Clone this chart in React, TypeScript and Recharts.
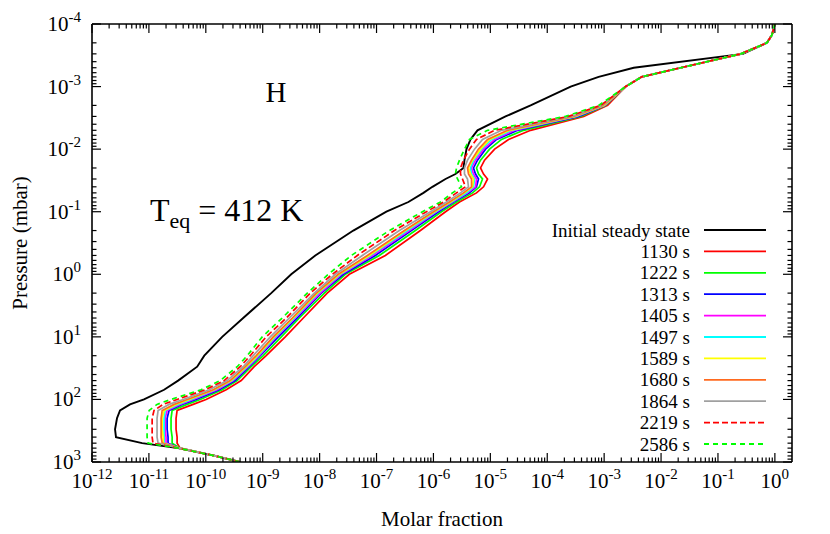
import React from 'react';
import { LineChart, Line, XAxis, YAxis, Legend } from 'recharts';

// gnuplot-like look: Times style font, black frame, ticks pointing inward
const FONT = "'Liberation Serif', 'Times New Roman', serif";

// ── data (pressure in mbar, molar fraction of H) ─────────────────────────────

const PRESSURE = [
  1000, 800, 600, 500, 400, 300, 200, 150, 120, 100, 70, 50, 30, 20, 10, 5, 2, 1, 0.5, 0.2,
  0.1, 0.07, 0.05, 0.04, 0.03, 0.025, 0.02, 0.015, 0.01, 0.007, 0.005, 0.003, 0.002, 0.001,
  7e-4, 5e-4, 3e-4, 2e-4, 1.5e-4, 1e-4,
];

const X_INITIAL = [
  4.0e-10, 1.46e-10, 3.26e-11, 7.6e-12, 2.64e-12, 2.54e-12, 2.75e-12, 3.11e-12, 4.66e-12, 8.2e-12,
  1.85e-11, 3.26e-11, 7.05e-11, 9.4e-11, 1.94e-10, 4.54e-10, 1.41e-9, 3.17e-9, 8.4e-9, 3.91e-8,
  1.49e-7, 3.63e-7, 6.67e-7, 9.6e-7, 1.63e-6, 2.44e-6, 3.37e-6, 3.51e-6, 3.81e-6, 4.48e-6,
  5.95e-6, 1.85e-5, 5.1e-5, 2.58e-4, 8.0e-4, 3.31e-3, 0.274, 0.725, 0.888, 1.0,
];

const X_1130 = [
  4.02e-10, 1.46e-10, 3.54e-11, 3.13e-11, 3.13e-11, 3.0e-11, 3.0e-11, 3.13e-11, 5.99e-11, 1.01e-10,
  2.28e-10, 4.19e-10, 7.09e-10, 1.15e-9, 2.49e-9, 5.17e-9, 1.36e-8, 3.33e-8, 1.43e-7, 5.91e-7,
  1.63e-6, 2.87e-6, 5.71e-6, 7.6e-6, 8.93e-6, 7.6e-6, 6.72e-6, 7.91e-6, 1.19e-5, 2.09e-5,
  5.1e-5, 4.37e-4, 1.15e-3, 2.39e-3, 4.58e-3, 2.22e-2, 0.253, 0.725, 0.888, 1.0,
];

const X_1222 = [
  4.02e-10, 1.46e-10, 3.54e-11, 2.56e-11, 2.56e-11, 2.45e-11, 2.45e-11, 2.56e-11, 4.69e-11, 7.95e-11,
  1.94e-10, 3.56e-10, 6.28e-10, 1.02e-9, 2.12e-9, 4.39e-9, 1.21e-8, 2.83e-8, 1.12e-7, 4.82e-7,
  1.38e-6, 2.54e-6, 4.86e-6, 6.46e-6, 7.29e-6, 6.2e-6, 5.71e-6, 6.72e-6, 9.69e-6, 1.57e-5,
  3.84e-5, 3.86e-4, 1.06e-3, 2.39e-3, 4.58e-3, 2.22e-2, 0.253, 0.725, 0.888, 1.0,
];

const X_1313 = [
  4.02e-10, 1.46e-10, 3.4e-11, 2.17e-11, 2.17e-11, 2.09e-11, 2.09e-11, 2.26e-11, 3.83e-11, 6.76e-11,
  1.72e-10, 3.28e-10, 5.79e-10, 9.05e-10, 1.88e-9, 4.05e-9, 1.07e-8, 2.61e-8, 9.55e-8, 4.1e-7,
  1.23e-6, 2.25e-6, 4.3e-6, 5.71e-6, 6.2e-6, 5.49e-6, 5.06e-6, 5.95e-6, 8.24e-6, 1.29e-5,
  3.01e-5, 3.56e-4, 1.02e-3, 2.39e-3, 4.58e-3, 2.22e-2, 0.253, 0.725, 0.888, 1.0,
];

const X_1405 = [
  4.02e-10, 1.46e-10, 3.4e-11, 2.0e-11, 2.0e-11, 1.93e-11, 1.93e-11, 2.09e-11, 3.54e-11, 5.99e-11,
  1.58e-10, 3.03e-10, 5.56e-10, 8.69e-10, 1.73e-9, 3.73e-9, 1.03e-8, 2.41e-8, 8.46e-8, 3.78e-7,
  1.13e-6, 2.16e-6, 3.97e-6, 5.49e-6, 5.71e-6, 5.06e-6, 4.67e-6, 5.49e-6, 7.6e-6, 1.19e-5,
  2.66e-5, 3.28e-4, 1.02e-3, 2.39e-3, 4.58e-3, 2.22e-2, 0.253, 0.725, 0.888, 1.0,
];

const X_1497 = [
  4.02e-10, 1.46e-10, 3.4e-11, 1.85e-11, 1.85e-11, 1.85e-11, 1.85e-11, 1.93e-11, 3.26e-11, 5.52e-11,
  1.46e-10, 2.91e-10, 5.34e-10, 8.34e-10, 1.66e-9, 3.59e-9, 9.49e-9, 2.31e-8, 7.8e-8, 3.49e-7,
  1.09e-6, 2.07e-6, 3.81e-6, 5.06e-6, 5.27e-6, 4.67e-6, 4.48e-6, 5.06e-6, 7.0e-6, 1.05e-5,
  2.36e-5, 3.15e-4, 9.82e-4, 2.39e-3, 4.58e-3, 2.22e-2, 0.253, 0.725, 0.888, 1.0,
];

const X_1589 = [
  4.02e-10, 1.46e-10, 3.4e-11, 1.78e-11, 1.78e-11, 1.71e-11, 1.71e-11, 1.85e-11, 3.0e-11, 5.09e-11,
  1.4e-10, 2.79e-10, 5.13e-10, 8.01e-10, 1.59e-9, 3.44e-9, 9.12e-9, 2.22e-8, 7.48e-8, 3.22e-7,
  1.04e-6, 1.99e-6, 3.51e-6, 4.86e-6, 5.06e-6, 4.48e-6, 4.13e-6, 4.86e-6, 6.72e-6, 9.69e-6,
  2.18e-5, 3.03e-4, 9.82e-4, 2.39e-3, 4.58e-3, 2.22e-2, 0.253, 0.725, 0.888, 1.0,
];

const X_1680 = [
  4.02e-10, 1.46e-10, 3.4e-11, 1.71e-11, 1.64e-11, 1.64e-11, 1.64e-11, 1.71e-11, 2.77e-11, 4.69e-11,
  1.35e-10, 2.68e-10, 4.93e-10, 7.69e-10, 1.53e-9, 3.31e-9, 8.75e-9, 2.13e-8, 6.9e-8, 3.09e-7,
  1.0e-6, 1.91e-6, 3.37e-6, 4.67e-6, 4.67e-6, 4.13e-6, 3.97e-6, 4.67e-6, 6.2e-6, 8.93e-6,
  2.0e-5, 2.91e-4, 9.43e-4, 2.39e-3, 4.58e-3, 2.22e-2, 0.253, 0.725, 0.888, 1.0,
];

const X_1864 = [
  4.02e-10, 1.46e-10, 3.4e-11, 1.45e-11, 1.39e-11, 1.39e-11, 1.39e-11, 1.45e-11, 2.26e-11, 3.99e-11,
  1.15e-10, 2.37e-10, 4.54e-10, 6.81e-10, 1.36e-9, 2.93e-9, 8.06e-9, 1.89e-8, 5.63e-8, 2.52e-7,
  8.86e-7, 1.69e-6, 2.99e-6, 4.13e-6, 3.97e-6, 3.51e-6, 3.51e-6, 3.97e-6, 5.27e-6, 7.29e-6,
  1.57e-5, 2.68e-4, 9.05e-4, 2.39e-3, 4.58e-3, 2.22e-2, 0.253, 0.725, 0.888, 1.0,
];

const X_2219 = [
  4.02e-10, 1.46e-10, 3.26e-11, 1.18e-11, 1.14e-11, 1.14e-11, 1.14e-11, 1.23e-11, 1.78e-11, 3.13e-11,
  9.74e-11, 2.1e-10, 4.02e-10, 6.03e-10, 1.15e-9, 2.59e-9, 6.86e-9, 1.67e-8, 4.6e-8, 2.06e-7,
  7.53e-7, 1.5e-6, 2.54e-6, 3.66e-6, 3.24e-6, 2.99e-6, 2.99e-6, 3.37e-6, 4.3e-6, 5.71e-6,
  1.19e-5, 2.37e-4, 8.69e-4, 2.39e-3, 4.58e-3, 2.22e-2, 0.253, 0.725, 0.888, 1.0,
];

const X_2586 = [
  4.02e-10, 1.46e-10, 3.26e-11, 9.68e-12, 9.29e-12, 9.29e-12, 9.29e-12, 1.01e-11, 1.39e-11, 2.45e-11,
  8.28e-11, 1.79e-10, 3.56e-10, 5.34e-10, 9.8e-10, 2.2e-9, 6.07e-9, 1.42e-8, 3.61e-8, 1.68e-7,
  6.41e-7, 1.33e-6, 2.16e-6, 3.11e-6, 2.65e-6, 2.44e-6, 2.54e-6, 2.87e-6, 3.51e-6, 4.3e-6,
  8.93e-6, 2.1e-4, 8.01e-4, 2.39e-3, 4.58e-3, 2.22e-2, 0.253, 0.725, 0.888, 1.0,
];

const SERIES = [
  { key: 'initial', name: 'Initial steady state', color: '#000000', dash: undefined, values: X_INITIAL },
  { key: 's1130', name: '1130 s', color: '#ff0000', dash: undefined, values: X_1130 },
  { key: 's1222', name: '1222 s', color: '#00ff00', dash: undefined, values: X_1222 },
  { key: 's1313', name: '1313 s', color: '#0000ff', dash: undefined, values: X_1313 },
  { key: 's1405', name: '1405 s', color: '#ff00ff', dash: undefined, values: X_1405 },
  { key: 's1497', name: '1497 s', color: '#00ffff', dash: undefined, values: X_1497 },
  { key: 's1589', name: '1589 s', color: '#ffff00', dash: undefined, values: X_1589 },
  { key: 's1680', name: '1680 s', color: '#ff6a1f', dash: undefined, values: X_1680 },
  { key: 's1864', name: '1864 s', color: '#a0a0a0', dash: undefined, values: X_1864 },
  { key: 's2219', name: '2219 s', color: '#ff0000', dash: '6 3', values: X_2219 },
  { key: 's2586', name: '2586 s', color: '#00ff00', dash: '5 4', values: X_2586 },
];

// major ticks (labelled 10^n) and the minor 2..9 ticks of each decade
const X_TICKS = [1e-12, 1e-11, 1e-10, 1e-9, 1e-8, 1e-7, 1e-6, 1e-5, 1e-4, 1e-3, 1e-2, 1e-1, 1];
const Y_TICKS = [1e-4, 1e-3, 1e-2, 1e-1, 1, 10, 100, 1000];
const MINOR_STEPS = [2, 3, 4, 5, 6, 7, 8, 9];
const X_MINOR = X_TICKS.flatMap(t => MINOR_STEPS.map(m => m * t)).filter(v => v < 2);
const Y_MINOR = Y_TICKS.slice(0, -1).flatMap(t => MINOR_STEPS.map(m => m * t));

const rows = PRESSURE.map((p, i) => {
  const row: Record<string, number> = { p };
  SERIES.forEach(s => { row[s.key] = s.values[i]; });
  return row;
});

// ── ticks ────────────────────────────────────────────────────────────────────

const MAJOR = 9;
const MINOR = 4.5;
const expOf = (v: number) => Math.round(Math.log10(v));

function makeTick(side: 'bottom' | 'top' | 'left' | 'right', majors: number[]) {
  return (props: any) => {
    const { x, y, payload } = props;
    const v = payload.value as number;
    const major = majors.some(m => Math.abs(m - v) / m < 1e-9);
    const len = major ? MAJOR : MINOR;
    let x2 = x, y2 = y;
    if (side === 'bottom') y2 = y - len;
    if (side === 'top') y2 = y + len;
    if (side === 'left') x2 = x + len;
    if (side === 'right') x2 = x - len;
    return (
      <g>
        <line x1={x} y1={y} x2={x2} y2={y2} stroke="#000" strokeWidth={1.2} />
        {major && side === 'bottom' && (
          <text x={x} y={y + 26} textAnchor="middle" fontFamily={FONT} fontSize={21} fill="#000">
            10<tspan dy={-9} fontSize={15}>{expOf(v)}</tspan>
          </text>
        )}
        {major && side === 'left' && (
          <text x={x - 11} y={y + 7} textAnchor="end" fontFamily={FONT} fontSize={21} fill="#000">
            10<tspan dy={-9} fontSize={15}>{expOf(v)}</tspan>
          </text>
        )}
      </g>
    );
  };
}

// ── legend (gnuplot key: text right aligned, sample on the right) ────────────

const ROW = 21.4;

function KeyBox() {
  return (
    <svg width={280} height={240} style={{ display: 'block' }}>
      {SERIES.map((s, i) => {
        const cy = 12 + i * ROW;
        return (
          <g key={s.key}>
            <text x={170} y={cy + 6.5} textAnchor="end" fontFamily={FONT} fontSize={19} fill="#000">
              {s.name}
            </text>
            <line x1={184} x2={246} y1={cy} y2={cy} stroke={s.color} strokeWidth={1.8} strokeDasharray={s.dash} />
          </g>
        );
      })}
    </svg>
  );
}

export default function App() {
  const axisLine = { stroke: '#000', strokeWidth: 1.6 };
  return (
    <div style={{ position: 'absolute', left: 0, top: 0, width: 830, height: 534, background: '#fff' }}>
      <LineChart
        layout="vertical"
        width={830}
        height={534}
        data={rows}
        margin={{ top: 23, right: 37, bottom: 71, left: 91 }}
      >
        <XAxis
          xAxisId="b" type="number" scale="log" domain={[1e-12, 2]} allowDataOverflow
          ticks={[...X_TICKS, ...X_MINOR]} interval={0} height={1}
          tickSize={0} tickMargin={0} axisLine={axisLine} tick={makeTick('bottom', X_TICKS)}
        />
        <XAxis
          xAxisId="t" orientation="top" type="number" scale="log" domain={[1e-12, 2]} allowDataOverflow
          ticks={[...X_TICKS, ...X_MINOR]} interval={0} height={1}
          tickSize={0} tickMargin={0} axisLine={axisLine} tick={makeTick('top', X_TICKS)}
        />
        <YAxis
          yAxisId="l" type="number" dataKey="p" scale="log" domain={[1e-4, 1000]} allowDataOverflow
          ticks={[...Y_TICKS, ...Y_MINOR]} interval={0} width={1}
          tickSize={0} tickMargin={0} axisLine={axisLine} tick={makeTick('left', Y_TICKS)}
        />
        <YAxis
          yAxisId="r" orientation="right" type="number" dataKey="p" scale="log" domain={[1e-4, 1000]} allowDataOverflow
          ticks={[...Y_TICKS, ...Y_MINOR]} interval={0} width={1}
          tickSize={0} tickMargin={0} axisLine={axisLine} tick={makeTick('right', Y_TICKS)}
        />
        {SERIES.map(s => (
          <Line
            key={s.key}
            xAxisId="b"
            yAxisId="l"
            dataKey={s.key}
            name={s.name}
            stroke={s.color}
            strokeWidth={s.key === 'initial' ? 1.9 : 1.7}
            strokeDasharray={s.dash}
            dot={false}
            activeDot={false}
            type="linear"
            isAnimationActive={false}
          />
        ))}
        <Legend
          layout="vertical"
          align="center"
          verticalAlign="middle"
          content={() => <KeyBox />}
          wrapperStyle={{ position: 'absolute', left: 520, top: 218, width: 280, height: 240 }}
        />
      </LineChart>
      <svg
        width={830}
        height={534}
        style={{ position: 'absolute', left: 0, top: 0, pointerEvents: 'none' }}
        fontFamily={FONT}
      >
        <text x={276} y={102} textAnchor="middle" fontSize={29}>H</text>
        <text x={150} y={221} fontSize={32}>
          T<tspan dy={7} fontSize={22}>eq</tspan><tspan dy={-7}> = 412 K</tspan>
        </text>
        <text x={442} y={526} textAnchor="middle" fontSize={21}>Molar fraction</text>
        <text transform="translate(27,243) rotate(-90)" textAnchor="middle" fontSize={21}>Pressure (mbar)</text>
      </svg>
    </div>
  );
}
